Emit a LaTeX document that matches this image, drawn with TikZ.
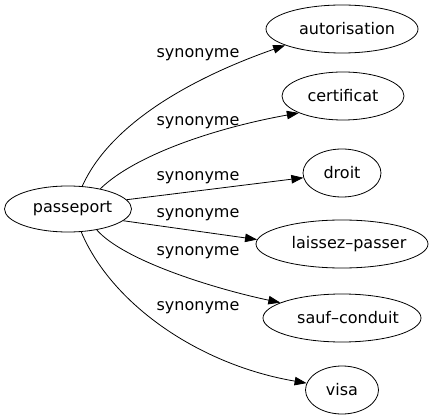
\documentclass[tikz,border=0pt]{standalone}
\usepackage{fontspec}
\setmainfont{DejaVu Sans}
\usetikzlibrary{shapes.geometric,arrows.meta}
\begin{document}
\begin{tikzpicture}[x=1pt,y=-1pt,
  word/.style={draw, ellipse, inner sep=0pt, minimum height=48pt, line width=0.8pt,
    font=\fontsize{16}{19}\selectfont},
  syn/.style={-{Triangle[length=12pt,width=8.5pt]}, line width=0.8pt},
  lbl/.style={inner sep=0pt, font=\fontsize{16}{19}\selectfont}]
\useasboundingbox (0,0) rectangle (433,419);

\node [word, minimum width=127pt, minimum height=46pt] (pass) at (68,209) {\hspace*{9pt}passeport};

\node [word, minimum width=152pt] (aut) at (342,29) {\hspace*{10pt}autorisation};
\node [word, minimum width=122pt] (cert) at (343,96) {certificat};
\node [word, minimum width=78pt] (droit) at (342,173) {droit};
\node [word, minimum width=172pt, inner xsep=-10pt] (laiss) at (342,244) {\hspace*{14pt}laissez–passer};
\node [word, minimum width=158pt, inner xsep=-6pt] (sauf) at (342,318) {\hspace*{12pt}sauf–conduit};
\node [word, minimum width=73pt] (visa) at (342,390) {visa};

\draw[syn] (pass.58) .. controls (112,120) and (200,75) .. (aut.196);
\draw[syn] (pass.32) .. controls (135,155) and (215,128) .. (cert.201);
\draw[syn] (pass.9) -- (droit.187);
\draw[syn] (pass.348) -- (laiss.177);
\draw[syn] (pass.324) .. controls (125,262) and (220,290) .. (sauf.166);
\draw[syn] (pass.300) .. controls (112,305) and (200,365) .. (visa.169);

\node [lbl] (s1) at (198,55) {synonyme};
\node [lbl] (s2) at (198,123) {synonyme};
\node [lbl] (s3) at (198,178) {synonyme};
\node [lbl] (s4) at (198,215) {synonyme};
\node [lbl] (s5) at (198,253) {synonyme};
\node [lbl] (s6) at (198,308) {synonyme};

\end{tikzpicture}
\end{document}
